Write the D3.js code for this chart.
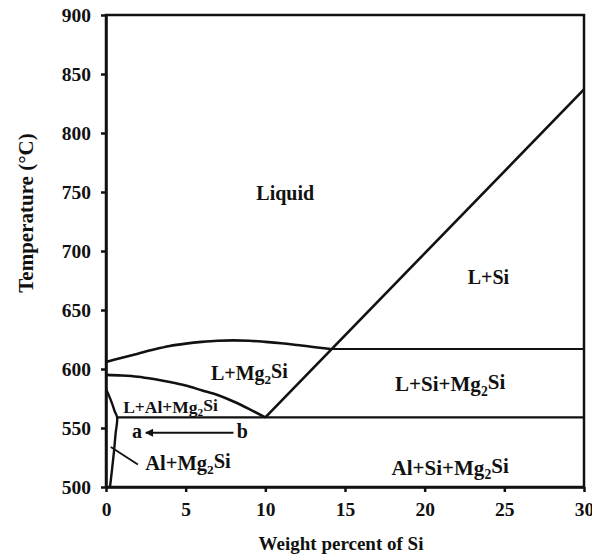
<!DOCTYPE html>
<meta charset="utf-8">
<script src="https://d3js.org/d3.v7.min.js"></script>
<style>
  body { margin: 0; background: #fff; }
  text { font-family: "Liberation Serif", "Times New Roman", serif; font-weight: bold; fill: #111; }
</style>
<svg id="chart" width="592" height="555"></svg>
<script>
// phase boundaries (wt% Si, temperature C)
var liquidusMg2Si = [[0, 606], [1, 609.5], [2, 613], [3, 616.5], [4, 619.5], [5, 621.5], [6, 623], [7, 624], [8, 624.3], [9, 624], [10, 623], [11, 621.8], [12, 620.3], [13, 618.7], [14.1, 617]];
var lowerLiquidus = [[0, 595], [1, 594.5], [2, 593.5], [3, 591.5], [4, 589], [5, 586], [6, 582], [7, 578], [8, 572.5], [9, 566], [10, 559]];
var solvus = [[0, 583], [0.2, 577], [0.4, 570], [0.55, 564], [0.7, 559], [0.6, 545], [0.5, 530], [0.38, 515], [0.25, 500]];
var siLiquidus = [[10, 559], [30, 837]];
var eutecticLine = [[0.7, 559], [30, 559]];
var ternaryLine = [[14.1, 617], [30, 617]];
var leader = [[0.3, 534], [2.0, 519]];
var arrowAB = [[8.0, 546], [2.5, 546]];

var xTicks = [0, 5, 10, 15, 20, 25, 30];
var yTicks = [500, 550, 600, 650, 700, 750, 800, 850, 900];

var regionLabels = [
  { x: 11.25, t: 743, parts: ["Liquid"], size: 20 },
  { x: 24.0, t: 672, parts: ["L+Si"], size: 20 },
  { x: 9.0, t: 591, parts: ["L+Mg", "2", "Si"], size: 20 },
  { x: 21.6, t: 581, parts: ["L+Si+Mg", "2", "Si"], size: 21 },
  { x: 4.05, t: 563, parts: ["L+Al+Mg", "2", "Si"], size: 17.5 },
  { x: 21.6, t: 510, parts: ["Al+Si+Mg", "2", "Si"], size: 21 },
  { x: 5.15, t: 514, parts: ["Al+Mg", "2", "Si"], size: 20.5 },
  { x: 1.95, t: 541.5, parts: ["a"], size: 20 },
  { x: 8.55, t: 541.5, parts: ["b"], size: 20 }
];

var svg = d3.select("#chart");
var margin = { top: 15, right: 8, bottom: 68, left: 106 };
var width = 592 - margin.left - margin.right,
    height = 555 - margin.top - margin.bottom;

var x = d3.scaleLinear().domain([0, 30]).range([0, width]);
var y = d3.scaleLinear().domain([500, 900]).range([height, 0]);

var defs = svg.append("defs");
defs.append("marker")
  .attr("id", "head")
  .attr("viewBox", "0 0 10 10")
  .attr("refX", 9).attr("refY", 5)
  .attr("markerWidth", 10).attr("markerHeight", 8)
  .attr("markerUnits", "userSpaceOnUse")
  .attr("orient", "auto")
  .append("path").attr("d", "M0,0 L10,5 L0,10 Z").attr("fill", "#111");

var g = svg.append("g").attr("transform", "translate(" + margin.left + "," + margin.top + ")");

// frame
g.append("rect").attr("x", 0).attr("y", 0).attr("width", width).attr("height", height)
  .attr("fill", "none").attr("stroke", "#111").attr("stroke-width", 2.5);

var xAxis = g.append("g").attr("transform", "translate(0," + height + ")")
  .call(d3.axisBottom(x).tickValues(xTicks).tickSize(5).tickPadding(10).tickSizeOuter(0));
var yAxis = g.append("g")
  .call(d3.axisLeft(y).tickValues(yTicks).tickSize(5).tickPadding(10).tickSizeOuter(0));
[xAxis, yAxis].forEach(function (a) {
  a.select(".domain").attr("stroke", "#111").attr("stroke-width", 2.5);
  a.selectAll(".tick line").attr("stroke", "#111").attr("stroke-width", 2.5);
  a.selectAll(".tick text").style("font-size", "19.5px").style("font-family", "Liberation Serif").style("font-weight", "bold").attr("fill", "#111");
});

var line = d3.line().x(function (d) { return x(d[0]); }).y(function (d) { return y(d[1]); });
var curve = d3.line().curve(d3.curveMonotoneX).x(function (d) { return x(d[0]); }).y(function (d) { return y(d[1]); });
var curveNat = d3.line().curve(d3.curveCatmullRom).x(function (d) { return x(d[0]); }).y(function (d) { return y(d[1]); });

g.append("path").attr("d", curve(liquidusMg2Si)).attr("fill", "none").attr("stroke", "#111").attr("stroke-width", 2.6);
g.append("path").attr("d", curve(lowerLiquidus)).attr("fill", "none").attr("stroke", "#111").attr("stroke-width", 2.6);
g.append("path").attr("d", curveNat(solvus)).attr("fill", "none").attr("stroke", "#111").attr("stroke-width", 2.4);
g.append("path").attr("d", line(siLiquidus)).attr("fill", "none").attr("stroke", "#111").attr("stroke-width", 2.6);
g.append("path").attr("d", line(eutecticLine)).attr("fill", "none").attr("stroke", "#111").attr("stroke-width", 2.4);
g.append("path").attr("d", line(ternaryLine)).attr("fill", "none").attr("stroke", "#111").attr("stroke-width", 2);
g.append("path").attr("d", line(leader)).attr("fill", "none").attr("stroke", "#111").attr("stroke-width", 1.8);
g.append("path").attr("d", line(arrowAB)).attr("fill", "none").attr("stroke", "#111").attr("stroke-width", 2)
  .attr("marker-end", "url(#head)");

// region labels with subscript 2
regionLabels.forEach(function (r) {
  var t = g.append("text").attr("x", x(r.x)).attr("y", y(r.t))
    .attr("text-anchor", "middle").style("font-size", r.size + "px");
  r.parts.forEach(function (p, i) {
    var s = t.append("tspan").text(p);
    if (i === 1) s.attr("dy", "0.3em").style("font-size", (r.size * 0.65) + "px");
    if (i === 2) s.attr("dy", "-0.3em");
  });
});

// axis titles
svg.append("text").attr("x", margin.left + width / 2 - 4).attr("y", 550)
  .attr("text-anchor", "middle").style("font-size", "19px").text("Weight percent of Si");
svg.append("text").attr("transform", "translate(33,213) rotate(-90)")
  .attr("text-anchor", "middle").style("font-size", "21px").text("Temperature (\u00B0C)");
</script>
